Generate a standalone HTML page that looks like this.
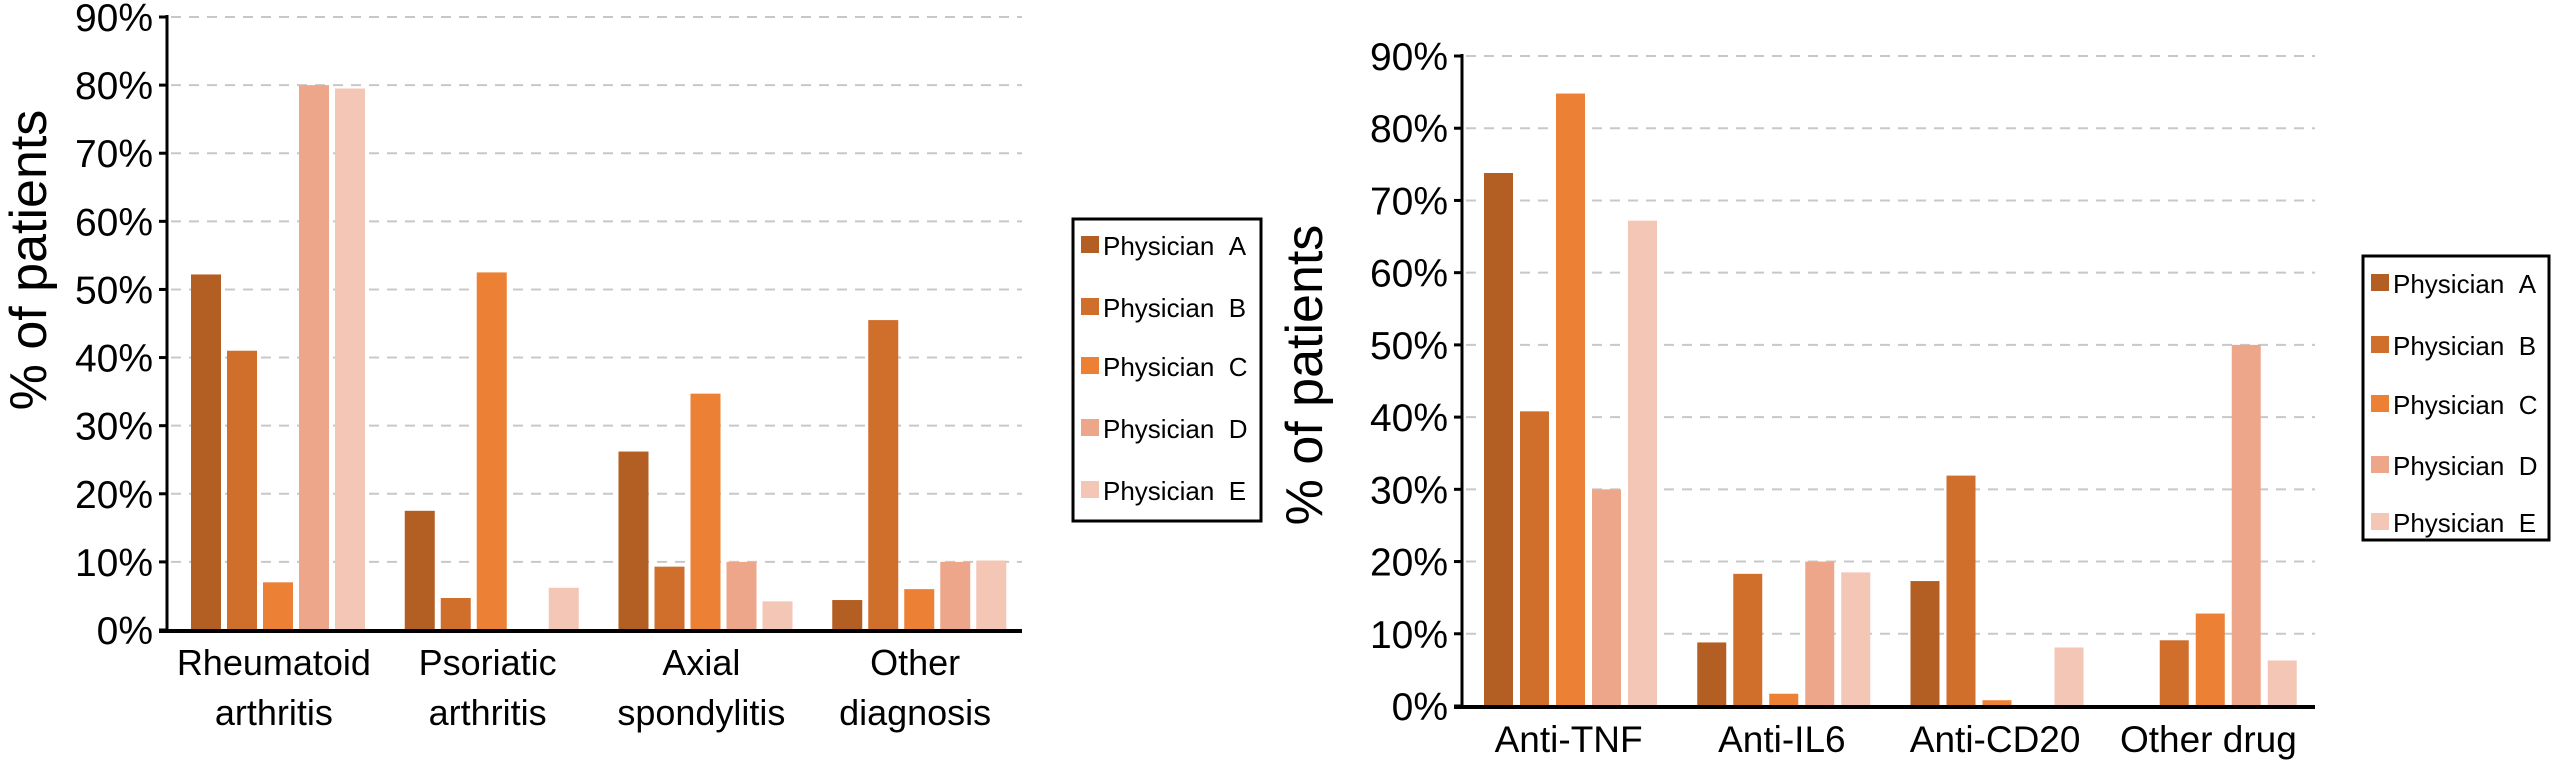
<!DOCTYPE html>
<html><head><meta charset="utf-8">
<style>
html,body{margin:0;padding:0;background:#fff;}
svg{display:block;font-family:"Liberation Sans",Arial,sans-serif;}
</style></head>
<body>
<svg id="fig" width="2551" height="761" viewBox="0 0 2551 761" xmlns="http://www.w3.org/2000/svg"></svg>
<script>
const series = ["Physician A","Physician B","Physician C","Physician D","Physician E"];
const colors = ["#b35f23","#d06e2c","#ec8035","#eea68a","#f3c6b6"];
const yTicks = [0,10,20,30,40,50,60,70,80,90];
const leftCategories = [["Rheumatoid","arthritis"],["Psoriatic","arthritis"],["Axial","spondylitis"],["Other","diagnosis"]];
const leftA = [52.2, 17.5, 26.2, 4.4];
const leftB = [41.0, 4.7, 9.3, 45.5];
const leftC = [7.0, 52.5, 34.7, 6.0];
const leftD = [80.0, 0, 10.0, 10.0];
const leftE = [79.5, 6.2, 4.2, 10.2];
const rightCategories = [["Anti-TNF"],["Anti-IL6"],["Anti-CD20"],["Other drug"]];
const rightA = [73.8, 8.8, 17.3, 0];
const rightB = [40.8, 18.3, 31.9, 9.1];
const rightC = [84.8, 1.7, 0.8, 12.8];
const rightD = [30.0, 20.0, 0, 50.0];
const rightE = [67.2, 18.5, 8.1, 6.3];

const NS="http://www.w3.org/2000/svg";
const svg=document.getElementById('fig');
function mk(tag,attrs,parent){const e=document.createElementNS(NS,tag);for(const k in attrs)e.setAttribute(k,attrs[k]);(parent||svg).appendChild(e);return e;}

function drawChart(cfg){
  const g=mk('g',{});
  
  
  const y=v=>cfg.y0-(v/90)*(cfg.y0-cfg.y90);
  const bw=(cfg.x1-cfg.x0)/cfg.cats.length;
  yTicks.forEach(t=>{
    if(t>0){const l=mk('line',{x1:cfg.x0+4,x2:cfg.x1,y1:y(t),y2:y(t),stroke:'#c8c8c8','stroke-width':2,'stroke-dasharray':'10,8'},g);
    
    }
    const tk=mk('line',{x1:cfg.x0-8,x2:cfg.x0,y1:y(t),y2:y(t),stroke:'#000','stroke-width':3},g);
    
    
    const tx=mk('text',{x:cfg.x0-14,y:y(t)+14,'text-anchor':'end','font-size':cfg.tickFs,fill:'#000'},g);
    tx.textContent=t+'%';
    
    
  });
  cfg.vals.forEach((arr,s)=>{
    arr.forEach((v,i)=>{
      if(v<=0) return;
      const x=cfg.x0+i*bw+cfg.off+s*cfg.step;
      const r=mk('rect',{x:x,y:y(v),width:cfg.barW,height:y(0)-y(v),fill:colors[s]},g);
      
      
    });
  });
  const ya=mk('line',{x1:cfg.x0,x2:cfg.x0,y1:y(90)-2,y2:y(0)+2,stroke:'#000','stroke-width':3},g);
  
  
  const xa=mk('line',{x1:cfg.x0-8,x2:cfg.x1,y1:y(0)+1,y2:y(0)+1,stroke:'#000','stroke-width':4},g);
  
  
  cfg.cats.forEach((lines,i)=>{
    const cx=cfg.x0+i*bw+bw/2;
    lines.forEach((ln,j)=>{
      const t=mk('text',{x:cx,y:cfg.labY+j*cfg.labLH,'text-anchor':'middle','font-size':cfg.labFs,fill:'#000'},g);
      t.textContent=ln;
      
      
    });
  });
  const yt=mk('text',{x:0,y:0,'text-anchor':'middle','font-size':cfg.titleFs,fill:'#000',transform:`translate(${cfg.titleX},${cfg.titleY}) rotate(-90)`},g);
  yt.textContent='% of patients';
  
  
  const L=cfg.leg;
  const lb=mk('rect',{x:L.x,y:L.y,width:L.w,height:L.h,fill:'#fff',stroke:'#000','stroke-width':3},g);
  
  
  series.forEach((s,k)=>{
    const cy=L.rows[k];
    const sw=mk('rect',{x:L.x+8,y:cy-9,width:18,height:17,fill:colors[k]},g);
    
    
    const t=mk('text',{x:L.x+30,y:cy+10,'font-size':26,fill:'#000'},g);
    t.textContent=s.replace(' ','\u00a0\u00a0');
    
    
  });
}

drawChart({name:'diagnosis-chart',x0:167,x1:1022,y0:630,y90:17,off:24,step:36,barW:30,
  vals:[leftA,leftB,leftC,leftD,leftE],cats:leftCategories,tickFs:39,labFs:36,labY:675,labLH:50,
  titleFs:52,titleX:46,titleY:260,
  leg:{x:1073,y:219,w:188,h:302,rows:[245,307,366,428,490]}});
drawChart({name:'drug-chart',x0:1462,x1:2315,y0:706,y90:56,off:22,step:36,barW:29,
  vals:[rightA,rightB,rightC,rightD,rightE],cats:rightCategories,tickFs:39,labFs:37,labY:752,labLH:50,
  titleFs:52,titleX:1322,titleY:375,
  leg:{x:2363,y:256,w:186,h:284,rows:[283,345,404,465,522]}});
</script>
</body></html>
